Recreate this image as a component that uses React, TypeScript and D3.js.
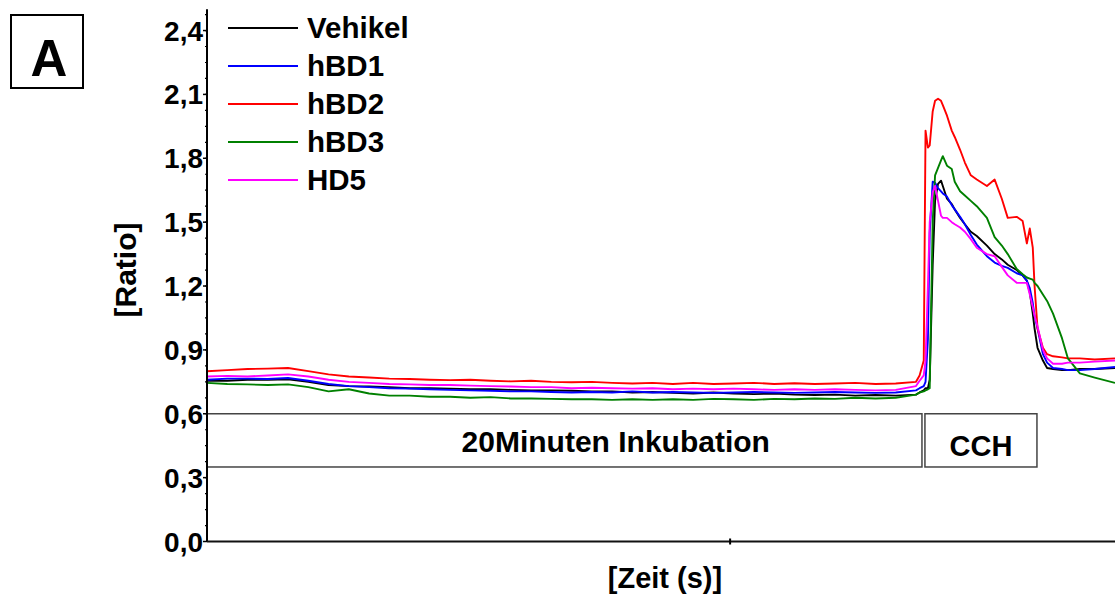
import * as d3 from "d3";

// time grid (s): baseline during incubation, then denser around the CCH response
const timeS = [
  0, 34, 68, 102, 136, 170, 204, 238, 272, 306, 340, 374, 408, 442, 476, 510, 544, 578,
  612, 646, 680, 714, 748, 782, 816, 850, 884, 918, 952, 986, 1020, 1054, 1088, 1122, 1156, 1190,
  1196, 1203, 1206, 1210, 1213, 1218, 1222, 1227, 1232, 1235, 1242, 1250, 1255, 1264, 1272, 1282,
  1292, 1309, 1322, 1334, 1344, 1359, 1369, 1376, 1381, 1386, 1389, 1394, 1403, 1410, 1420, 1435,
  1445, 1465, 1490, 1524,
];

const vehikel = [
  0.755, 0.755, 0.76, 0.76, 0.762, 0.75, 0.735, 0.73, 0.728, 0.725, 0.72, 0.72, 0.718, 0.715, 0.715, 0.712, 0.71, 0.71,
  0.708, 0.705, 0.705, 0.70, 0.702, 0.698, 0.695, 0.70, 0.695, 0.692, 0.695, 0.69, 0.688, 0.69, 0.685, 0.688, 0.685, 0.69,
  0.70, 0.71, 0.72, 0.72, 0.76, 1.30, 1.60, 1.68, 1.695, 1.67, 1.61, 1.585, 1.56, 1.52, 1.49, 1.455,
  1.435, 1.39, 1.35, 1.325, 1.30, 1.275, 1.25, 1.225, 1.17, 1.07, 1.00, 0.91, 0.85, 0.815, 0.81, 0.805,
  0.805, 0.81, 0.81, 0.815,
];
const hbd1 = [
  0.76, 0.765, 0.765, 0.763, 0.768, 0.755, 0.74, 0.73, 0.725, 0.72, 0.718, 0.715, 0.712, 0.71, 0.708, 0.705, 0.705, 0.702,
  0.70, 0.702, 0.70, 0.705, 0.70, 0.702, 0.70, 0.698, 0.70, 0.702, 0.70, 0.698, 0.70, 0.702, 0.70, 0.698, 0.70, 0.71,
  0.72, 0.73, 0.75, 0.95, 1.45, 1.69, 1.685, 1.66, 1.645, 1.635, 1.62, 1.58, 1.56, 1.525, 1.49, 1.44,
  1.395, 1.34, 1.31, 1.295, 1.285, 1.26, 1.25, 1.225, 1.19, 1.12, 1.06, 1.00, 0.88, 0.84, 0.815, 0.81,
  0.805, 0.805, 0.81, 0.82,
];
const hbd2 = [
  0.80, 0.805, 0.81, 0.812, 0.815, 0.80, 0.785, 0.775, 0.77, 0.765, 0.763, 0.76, 0.758, 0.76, 0.755, 0.752, 0.755, 0.75,
  0.748, 0.75, 0.745, 0.742, 0.745, 0.74, 0.745, 0.74, 0.742, 0.745, 0.74, 0.743, 0.74, 0.742, 0.745, 0.74, 0.742, 0.75,
  0.78, 0.85, 1.93, 1.85, 1.86, 2.02, 2.07, 2.08, 2.07, 2.05, 2.00, 1.93, 1.90, 1.84, 1.78, 1.72,
  1.70, 1.67, 1.70, 1.61, 1.52, 1.525, 1.505, 1.40, 1.47, 1.38, 1.20, 1.00, 0.91, 0.88, 0.87, 0.865,
  0.86, 0.86, 0.855, 0.86,
];
const hbd3 = [
  0.745, 0.74, 0.738, 0.735, 0.738, 0.725, 0.705, 0.715, 0.695, 0.685, 0.685, 0.68, 0.68, 0.675, 0.678, 0.672, 0.672, 0.67,
  0.668, 0.668, 0.665, 0.668, 0.665, 0.668, 0.665, 0.67, 0.668, 0.665, 0.67, 0.668, 0.672, 0.67, 0.675, 0.672, 0.675, 0.69,
  0.70, 0.705, 0.71, 0.715, 0.72, 1.50, 1.72, 1.755, 1.79, 1.81, 1.765, 1.75, 1.69, 1.645, 1.625, 1.60,
  1.575, 1.52, 1.43, 1.39, 1.35, 1.28, 1.255, 1.24, 1.235, 1.23, 1.215, 1.20, 1.16, 1.13, 1.07, 0.955,
  0.86, 0.79, 0.77, 0.745,
];
const hd5 = [
  0.775, 0.778, 0.775, 0.78, 0.785, 0.775, 0.76, 0.75, 0.745, 0.74, 0.738, 0.735, 0.735, 0.732, 0.73, 0.728, 0.725, 0.725,
  0.72, 0.722, 0.72, 0.718, 0.72, 0.715, 0.718, 0.715, 0.718, 0.715, 0.712, 0.715, 0.712, 0.715, 0.712, 0.71, 0.712, 0.73,
  0.755, 0.78, 0.85, 1.20, 1.50, 1.64, 1.67, 1.60, 1.53, 1.52, 1.52, 1.50, 1.49, 1.475, 1.455, 1.42,
  1.38, 1.35, 1.34, 1.29, 1.25, 1.215, 1.215, 1.215, 1.16, 1.10, 1.06, 1.01, 0.90, 0.86, 0.835, 0.835,
  0.84, 0.84, 0.845, 0.85,
];

const seriesNames = ["Vehikel", "hBD1", "hBD2", "hBD3", "HD5"];
const seriesValues = [vehikel, hbd1, hbd2, hbd3, hd5];
const seriesColors = ["#000000", "#0000ff", "#ff0000", "#008000", "#ff00ff"];

const yMajorTicks = [0, 0.3, 0.6, 0.9, 1.2, 1.5, 1.8, 2.1, 2.4];
const xTicks = [878];

// stimulation phases shown as boxes (start s, end s, label)
const phaseLabels = ["20Minuten Inkubation", "CCH"];
const phaseStart = [0, 1205];
const phaseEnd = [1200, 1393];
const phaseLabelAt = [686, 1299];
const phaseLow = [0.35, 0.35];
const phaseHigh = [0.6, 0.6];

const W = 1115;
const H = 596;
const FONT = "'Liberation Sans', Arial, Helvetica, sans-serif";

const App = () => {
  const x = d3.scaleLinear().domain([0, 1524]).range([207, 1115]);
  const y = d3.scaleLinear().domain([0, 2.5]).range([541.5, 9.25]);

  const line = d3
    .line<number>()
    .x((d, i) => x(timeS[i]))
    .y((d) => y(d));

  const minorTicks = d3.range(0, 2.49, 0.075);

  return (
    <svg
      width={W}
      height={H}
      style={{ position: "absolute", left: 0, top: 0, display: "block", background: "#fff" }}
      fontFamily={FONT}
      fontWeight="bold"
    >
      {/* panel letter */}
      <rect x={11} y={15} width={72} height={73} fill="none" stroke="#000" strokeWidth={2} />
      <text x={49} y={76} fontSize={51} textAnchor="middle">A</text>

      {/* phase boxes */}
      {phaseLabels.map((lab, i) => (
        <g key={lab}>
          <rect
            x={x(phaseStart[i])}
            y={y(phaseHigh[i])}
            width={x(phaseEnd[i]) - x(phaseStart[i])}
            height={y(phaseLow[i]) - y(phaseHigh[i])}
            fill="none"
            stroke="#444"
            strokeWidth={1.5}
          />
          <text
            x={x(phaseLabelAt[i])}
            y={i === 0 ? 452 : 456}
            fontSize={i === 0 ? 30 : 29}
            textAnchor="middle"
          >
            {lab}
          </text>
        </g>
      ))}

      {/* traces */}
      {seriesValues.map((vals, i) => (
        <path
          key={seriesNames[i]}
          d={line(vals) || ""}
          fill="none"
          stroke={seriesColors[i]}
          strokeWidth={1.9}
          strokeLinejoin="round"
        />
      ))}

      {/* y axis */}
      <line x1={207} x2={207} y1={y(2.5)} y2={y(0)} stroke="#000" strokeWidth={2} />
      {minorTicks.map((t) => (
        <line key={"m" + t} x1={205} x2={207} y1={y(t)} y2={y(t)} stroke="#000" strokeWidth={1.2} />
      ))}
      {yMajorTicks.map((t) => (
        <g key={"t" + t}>
          <line x1={203} x2={207} y1={y(t)} y2={y(t)} stroke="#000" strokeWidth={1.5} />
          <text x={203} y={y(t) + 10} fontSize={28} textAnchor="end">
            {d3.format(".1f")(t).replace(".", ",")}
          </text>
        </g>
      ))}

      {/* x axis */}
      <line x1={207} x2={W} y1={y(0)} y2={y(0)} stroke="#111" strokeWidth={2} />
      {xTicks.map((t) => (
        <line key={"x" + t} x1={x(t)} x2={x(t)} y1={y(0) - 3} y2={y(0) + 3} stroke="#000" strokeWidth={2} />
      ))}

      {/* axis titles */}
      <text x={665} y={588} fontSize={29} textAnchor="middle">[Zeit (s)]</text>
      <text transform="translate(136,270) rotate(-90)" fontSize={30} textAnchor="middle">[Ratio]</text>

      {/* legend */}
      {seriesNames.map((n, i) => (
        <g key={"l" + n} transform={`translate(0,${28 + i * 38})`}>
          <line x1={228} x2={298} y1={0} y2={0} stroke={seriesColors[i]} strokeWidth={2} />
          <text x={307} y={10} fontSize={29.5}>{n}</text>
        </g>
      ))}
    </svg>
  );
};

export default App;
